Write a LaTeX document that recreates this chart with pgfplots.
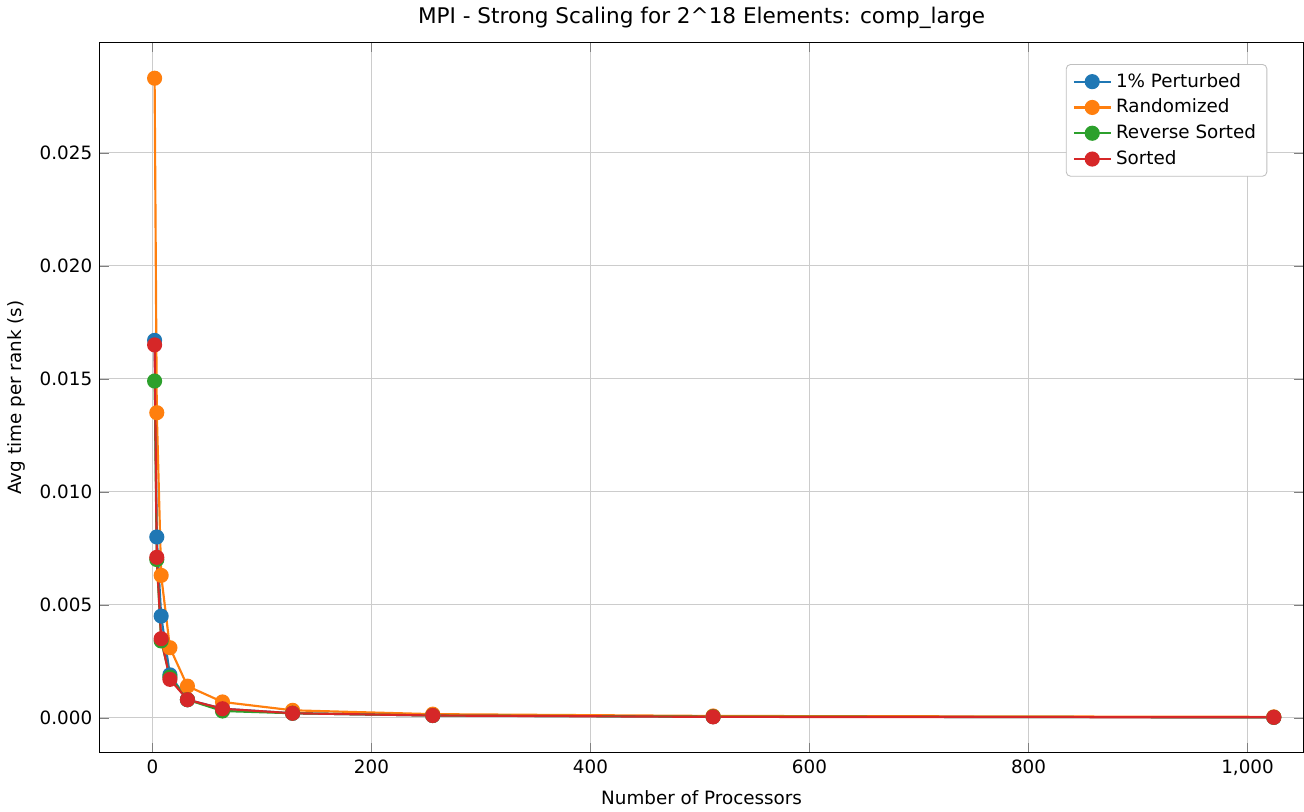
\documentclass[border=0pt]{standalone}
\usepackage{pgfplots}
\pgfplotsset{compat=1.18}
\usepackage{fontspec}
\setmainfont{DejaVu Sans}
\definecolor{c1}{HTML}{1F77B4}
\definecolor{c2}{HTML}{FF7F0E}
\definecolor{c3}{HTML}{2CA02C}
\definecolor{c4}{HTML}{D62728}
\begin{document}
\begin{tikzpicture}
\begin{axis}[
  scale only axis, width=558pt, height=329pt,
  xmin=-48, xmax=1051, ymin=-0.00153, ymax=0.02987,
  xtick={0,200,400,600,800,1000},
  ytick={0,0.005,0.01,0.015,0.02,0.025},
  scaled y ticks=false,
  yticklabel style={/pgf/number format/fixed, /pgf/number format/fixed zerofill, /pgf/number format/precision=3},
  /pgf/number format/assume math mode=true,
  ticklabel style={font=\fontsize{8.5}{10}\selectfont},
  label style={font=\fontsize{8.5}{10}\selectfont},
  grid=major, grid style={gray!40, line width=0.6pt},
  xlabel={Number of Processors}, ylabel={Avg time per rank (s)},
  title={MPI - Strong Scaling for 2\textasciicircum18 Elements: comp\_large},
  title style={font=\fontsize{10}{12}\selectfont, yshift=-3pt},
  legend pos=north east,
  legend style={font=\fontsize{8.5}{11}\selectfont, draw=gray!50, rounded corners=2pt},
  legend cell align=left,
  every axis plot/.append style={line width=1pt, mark=*, mark size=3pt},
]
\addplot[c1, mark options={fill=c1}] coordinates {(2,0.0167)(4,0.0080)(8,0.0045)(16,0.0019)(32,0.0008)(64,0.0004)(128,0.0002)(256,0.0001)(512,0.00005)(1024,0.00002)};
\addlegendentry{1\% Perturbed}
\addplot[c2, mark options={fill=c2}] coordinates {(2,0.0283)(4,0.0135)(8,0.0063)(16,0.0031)(32,0.0014)(64,0.0007)(128,0.00033)(256,0.00016)(512,0.00008)(1024,0.00004)};
\addlegendentry{Randomized}
\addplot[c3, mark options={fill=c3}] coordinates {(2,0.0149)(4,0.0070)(8,0.0034)(16,0.0018)(32,0.0008)(64,0.0003)(128,0.0002)(256,0.0001)(512,0.00005)(1024,0.00002)};
\addlegendentry{Reverse Sorted}
\addplot[c4, mark options={fill=c4}] coordinates {(2,0.0165)(4,0.0071)(8,0.0035)(16,0.0017)(32,0.0008)(64,0.0004)(128,0.0002)(256,0.0001)(512,0.00004)(1024,0.00002)};
\addlegendentry{Sorted}
\end{axis}
\end{tikzpicture}
\end{document}
